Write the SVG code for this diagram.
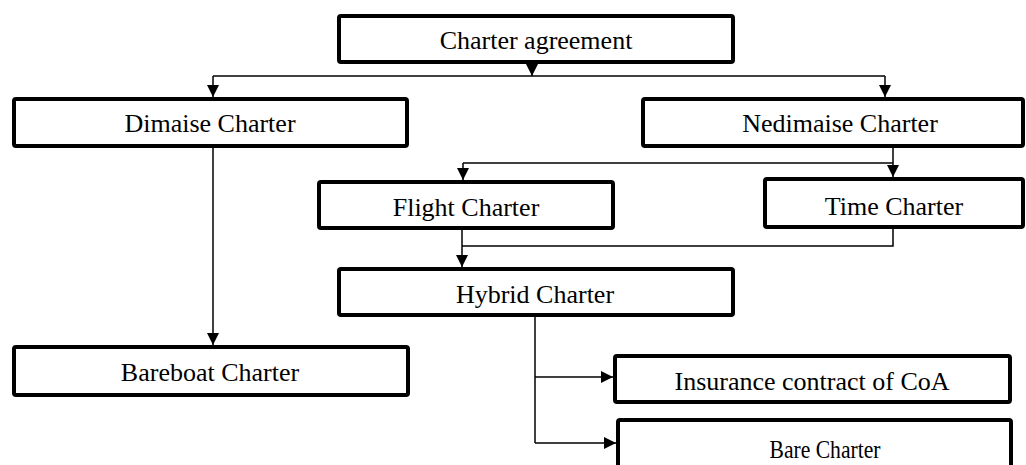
<svg xmlns="http://www.w3.org/2000/svg" width="1026" height="465" viewBox="0 0 1026 465">
<style>
.box{fill:#fff;stroke:#000;stroke-width:4;stroke-linejoin:round}
.lbl{font-family:"Liberation Serif","Times New Roman",serif;font-size:26px;fill:#000;text-anchor:middle}
.con{fill:none;stroke:#000;stroke-width:1.5}
.arr{marker-end:url(#ah)}
</style>
<defs>
<marker id="ah" markerUnits="userSpaceOnUse" markerWidth="12" markerHeight="12" refX="12" refY="6" orient="auto">
<path d="M0,0 L12,6 L0,12 Z" fill="#000"/>
</marker>
</defs>
<rect width="1026" height="465" fill="#fff"/>
<g id="connectors">
<path class="con arr" d="M532,64 V76"/>
<path class="con" d="M213,76 H885"/>
<path class="con arr" d="M213,76 V97"/>
<path class="con arr" d="M885,76 V97"/>
<path class="con arr" d="M893,148 V177"/>
<path class="con" d="M463,163 H893"/>
<path class="con arr" d="M463,163 V180"/>
<path class="con" d="M893,229 V246 H462"/>
<path class="con arr" d="M462,230 V267"/>
<path class="con arr" d="M213,148 V345"/>
<path class="con" d="M535,317 V443"/>
<path class="con arr" d="M535,377 H613"/>
<path class="con arr" d="M535,443 H616"/>
</g>
<g id="charter-agreement">
<rect class="box" x="339" y="16" width="394" height="46" rx="2"/>
<text class="lbl" x="536" y="49">Charter agreement</text>
</g>
<g id="dimaise-charter">
<rect class="box" x="14" y="99" width="393" height="47" rx="2"/>
<text class="lbl" x="210" y="132">Dimaise Charter</text>
</g>
<g id="nedimaise-charter">
<rect class="box" x="643" y="99" width="380" height="47" rx="2"/>
<text class="lbl" x="840" y="132">Nedimaise Charter</text>
</g>
<g id="flight-charter">
<rect class="box" x="319" y="182" width="294" height="46" rx="2"/>
<text class="lbl" x="466" y="216">Flight Charter</text>
</g>
<g id="time-charter">
<rect class="box" x="765" y="179" width="258" height="48" rx="2"/>
<text class="lbl" x="894" y="215">Time Charter</text>
</g>
<g id="hybrid-charter">
<rect class="box" x="339" y="269" width="394" height="46" rx="2"/>
<text class="lbl" x="535" y="303">Hybrid Charter</text>
</g>
<g id="bareboat-charter">
<rect class="box" x="14" y="347" width="394" height="48" rx="2"/>
<text class="lbl" x="210" y="381">Bareboat Charter</text>
</g>
<g id="insurance-contract">
<rect class="box" x="615" y="356" width="395" height="46" rx="2"/>
<text class="lbl" x="812" y="390">Insurance contract of CoA</text>
</g>
<g id="bare-charter">
<rect class="box" x="618" y="420" width="393" height="60" rx="2"/>
<text class="lbl" x="825" y="458" textLength="111" lengthAdjust="spacingAndGlyphs">Bare Charter</text>
</g>
</svg>
